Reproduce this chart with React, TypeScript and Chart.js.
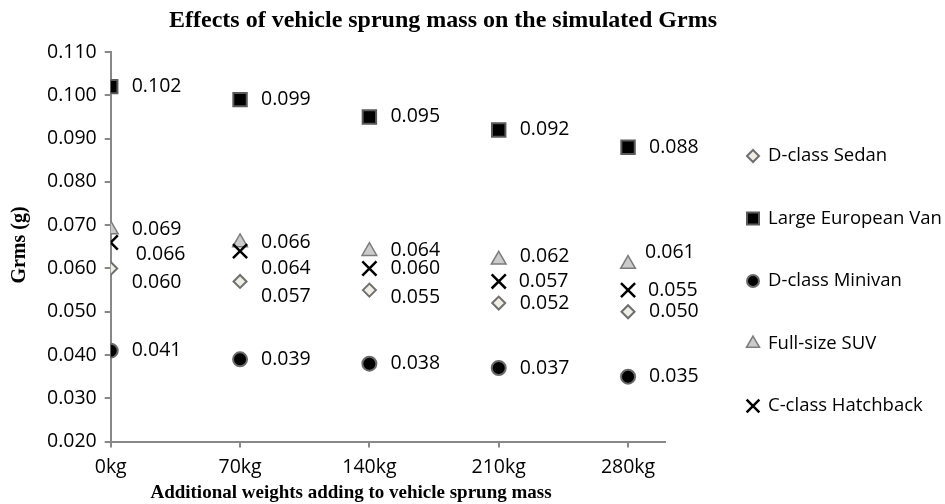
import React, { useEffect, useRef } from "react";
import { Chart, registerables } from "chart.js";

Chart.register(...registerables);

// ---- data ----
const weights = [0, 70, 140, 210, 280];
const xTickValues = [0, 70, 140, 210, 280];
const seriesNames = [
  "D-class Sedan",
  "Large European Van",
  "D-class Minivan",
  "Full-size SUV",
  "C-class Hatchback",
];
const sedan = [0.06, 0.057, 0.055, 0.052, 0.05];
const van = [0.102, 0.099, 0.095, 0.092, 0.088];
const minivan = [0.041, 0.039, 0.038, 0.037, 0.035];
const suv = [0.069, 0.066, 0.064, 0.062, 0.061];
const hatch = [0.066, 0.064, 0.06, 0.057, 0.055];

const titleText = "Effects of vehicle sprung mass on the simulated Grms";
const xTitle = "Additional weights adding to vehicle sprung mass";
const yTitle = "Grms (g)";

// ---- styles ----
const AXIS = "#888888";
const SANS = '"Open Sans", "Noto Sans", sans-serif';
const SERIF = '"Liberation Serif", "Times New Roman", serif';

type Style = {
  shape: string;
  radius: number;
  legendRadius: number;
  fill: string;
  stroke: string;
  width: number;
};
const styles: Style[] = [
  { shape: "rectRot", radius: 6.5, legendRadius: 6, fill: "#eeeee6", stroke: "#6f6f6f", width: 2 },
  { shape: "rect", radius: 9.5, legendRadius: 8.5, fill: "#000000", stroke: "#5a5a5a", width: 2 },
  { shape: "circle", radius: 7, legendRadius: 6, fill: "#000000", stroke: "#6a6a6a", width: 2 },
  { shape: "triangle", radius: 8.5, legendRadius: 7.5, fill: "#cbcbcb", stroke: "#7c7c7c", width: 1.5 },
  { shape: "crossRot", radius: 10, legendRadius: 9, fill: "#000000", stroke: "#000000", width: 2.5 },
];

// label nudges (pixels) relative to each marker, per series
const labelDx = [
  [21, 21, 21, 21, 21],
  [21, 21, 21, 21, 21],
  [21, 21, 21, 21, 21],
  [21, 21, 21, 21, 17],
  [25, 21, 21, 20, 20],
];
const labelDy = [
  [14, 15, 7, 0, 0],
  [0, 0, 0, 0, 0],
  [0, 0, 0, 0, 0],
  [0, 0, -1, -3, -12],
  [12, 17, 0, 0, 0],
];

const seriesValues = [sedan, van, minivan, suv, hatch];

function drawShape(ctx: CanvasRenderingContext2D, s: Style, x: number, y: number, r: number) {
  ctx.save();
  ctx.beginPath();
  ctx.fillStyle = s.fill;
  ctx.strokeStyle = s.stroke;
  ctx.lineWidth = s.width;
  if (s.shape === "rectRot") {
    ctx.moveTo(x - r, y);
    ctx.lineTo(x, y - r);
    ctx.lineTo(x + r, y);
    ctx.lineTo(x, y + r);
    ctx.closePath();
    ctx.fill();
    ctx.stroke();
  } else if (s.shape === "rect") {
    const h = Math.SQRT1_2 * r;
    ctx.rect(x - h, y - h, 2 * h, 2 * h);
    ctx.fill();
    ctx.stroke();
  } else if (s.shape === "circle") {
    ctx.arc(x, y, r, 0, Math.PI * 2);
    ctx.fill();
    ctx.stroke();
  } else if (s.shape === "triangle") {
    let a = 0;
    ctx.moveTo(x + Math.sin(a) * r, y - Math.cos(a) * r);
    a += (2 * Math.PI) / 3;
    ctx.lineTo(x + Math.sin(a) * r, y - Math.cos(a) * r);
    a += (2 * Math.PI) / 3;
    ctx.lineTo(x + Math.sin(a) * r, y - Math.cos(a) * r);
    ctx.closePath();
    ctx.fill();
    ctx.stroke();
  } else {
    const o = Math.SQRT1_2 * r;
    ctx.moveTo(x - o, y - o);
    ctx.lineTo(x + o, y + o);
    ctx.moveTo(x + o, y - o);
    ctx.lineTo(x - o, y + o);
    ctx.stroke();
  }
  ctx.restore();
}

const decorPlugin = {
  id: "decor",
  afterDatasetsDraw(chart: any) {
    const ctx: CanvasRenderingContext2D = chart.ctx;
    ctx.save();
    ctx.font = `19.5px ${SANS}`;
    ctx.fillStyle = "#000";
    ctx.textAlign = "left";
    ctx.textBaseline = "middle";
    chart.data.datasets.forEach((ds: any, i: number) => {
      const meta = chart.getDatasetMeta(i);
      meta.data.forEach((el: any, j: number) => {
        const v = ds.data[j].y as number;
        ctx.fillText(v.toFixed(3), el.x + labelDx[i][j], el.y + labelDy[i][j]);
      });
    });
    ctx.restore();
  },
  afterDraw(chart: any) {
    const ctx: CanvasRenderingContext2D = chart.ctx;
    const area = chart.chartArea;
    ctx.save();
    // title
    ctx.fillStyle = "#000";
    ctx.font = `bold 24px ${SERIF}`;
    ctx.textAlign = "center";
    ctx.textBaseline = "alphabetic";
    ctx.fillText(titleText, 443, 27);
    // x title
    ctx.font = `bold 19px ${SERIF}`;
    ctx.fillText(xTitle, 351, 498);
    // y title
    ctx.save();
    ctx.translate(20, 245);
    ctx.rotate(-Math.PI / 2);
    ctx.font = `bold 20px ${SERIF}`;
    ctx.textBaseline = "middle";
    ctx.fillText(yTitle, 0, 0);
    ctx.restore();
    // legend
    const lx = area.right + 88;
    const ly0 = area.top + 104;
    const gap = 62.5;
    ctx.font = `18.5px ${SANS}`;
    ctx.textAlign = "left";
    ctx.textBaseline = "middle";
    seriesNames.forEach((name, i) => {
      const y = ly0 + i * gap;
      drawShape(ctx, styles[i], lx, y, styles[i].legendRadius);
      ctx.fillStyle = "#000";
      ctx.fillText(name, lx + 15, y);
    });
    ctx.restore();
  },
};

export default function App() {
  const canvasRef = useRef<HTMLCanvasElement | null>(null);

  useEffect(() => {
    document.body.style.margin = "0";
    document.body.style.background = "#ffffff";
    const canvas = canvasRef.current;
    if (!canvas) return;
    const datasets = seriesNames.map((name, i) => ({
      label: name,
      data: weights.map((w, j) => ({ x: w, y: seriesValues[i][j] })),
      showLine: false,
      pointStyle: styles[i].shape,
      pointRadius: styles[i].radius,
      pointHoverRadius: styles[i].radius,
      backgroundColor: styles[i].fill,
      borderColor: styles[i].stroke,
      pointBorderWidth: styles[i].width,
      borderWidth: styles[i].width,
      order: seriesNames.length - i,
    }));
    const chart = new Chart(canvas, {
      type: "scatter",
      data: { datasets },
      plugins: [decorPlugin],
      options: {
        animation: false,
        responsive: true,
        maintainAspectRatio: false,
        layout: { padding: { top: 52, left: 39, right: 280, bottom: 17 } },
        plugins: {
          legend: { display: false },
          title: { display: false },
          tooltip: { enabled: false },
        },
        scales: {
          x: {
            type: "linear",
            min: 0,
            max: 300,
            afterBuildTicks: (scale: any) => {
              scale.ticks = xTickValues.map((v) => ({ value: v }));
            },
            grid: {
              drawOnChartArea: false,
              drawTicks: true,
              tickLength: 6,
              color: AXIS,
              lineWidth: 2,
            },
            border: { color: AXIS, width: 2 },
            ticks: {
              color: "#000",
              font: { family: SANS, size: 19.5 },
              padding: 8,
              maxRotation: 0,
              callback: (v: any) => `${v}kg`,
            },
          },
          y: {
            min: 0.02,
            max: 0.11,
            grid: {
              drawOnChartArea: false,
              drawTicks: true,
              tickLength: 6,
              color: AXIS,
              lineWidth: 2,
            },
            border: { color: AXIS, width: 2 },
            ticks: {
              stepSize: 0.01,
              color: "#000",
              font: { family: SANS, size: 19.5 },
              padding: 8,
              callback: (v: any) => Number(v).toFixed(3),
            },
          },
        },
      },
    } as any);
    return () => chart.destroy();
  }, []);

  return (
    <div style={{ width: 945, height: 504, position: "relative", background: "#fff" }}>
      <canvas ref={canvasRef} />
    </div>
  );
}
